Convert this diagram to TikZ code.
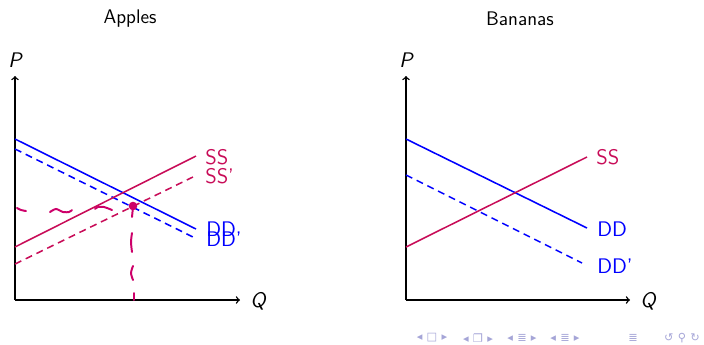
\documentclass[tikz,border=0pt]{standalone}
\usepackage{fontspec}
\usepackage{xcolor}
\newfontfamily\navfont{DejaVu Sans}
\definecolor{ssred}{RGB}{200,12,88}
\definecolor{inkred}{RGB}{205,0,105}
\definecolor{navgray}{RGB}{165,165,215}
\newcommand{\navgap}{\hspace{3pt}}

\tikzset{
  axis/.style={->,line width=1pt,black},
  demand/.style={line width=1.1pt,blue},
  supply/.style={line width=1.1pt,ssred},
  shifted/.style={dash pattern=on 5pt off 3.5pt},
  curvelab/.style={anchor=west,inner sep=0pt,font=\sffamily\fontsize{15}{17}\selectfont},
  axlab/.style={inner sep=0pt,font=\sffamily\itshape\fontsize{15}{17}\selectfont},
  ttl/.style={inner sep=0pt,font=\sffamily\fontsize{14}{16}\selectfont},
  ink/.style={inkred,line width=1.4pt,line cap=round},
  navsym/.style={inner sep=0pt,navgray,font=\navfont\fontsize{8}{9}\selectfont}
}

\begin{document}
\begin{tikzpicture}[x=0.025cm,y=-0.025cm]
    \useasboundingbox (0,0) rectangle (704,344);

    % Apples
    \node[ttl] (tA) at (130,19) {Apples};
    \coordinate (oA) at (15,300);
    \coordinate (pA) at (15,76);
    \coordinate (qA) at (240,300);
    \draw[axis] (oA) -- (pA);
    \draw[axis] (oA) -- (qA);
    \node[axlab] (PA) at (15,60) {P};
    \node[axlab,anchor=west] (QA) at (250,301) {Q};

    \coordinate (ddA1) at (15,139);   \coordinate (ddA2) at (196,229);
    \coordinate (dpA1) at (15,149);   \coordinate (dpA2) at (193,237);
    \coordinate (ssA1) at (15,247);   \coordinate (ssA2) at (196,156);
    \coordinate (spA1) at (15,264);   \coordinate (spA2) at (193,177);
    \draw[demand] (ddA1) -- (ddA2);
    \draw[demand,shifted] (dpA1) -- (dpA2);
    \draw[supply] (ssA1) -- (ssA2);
    \draw[supply,shifted] (spA1) -- (spA2);
    \node[curvelab,ssred] (lssA) at (205,157) {SS};
    \node[curvelab,ssred] (lspA) at (205,176) {SS'};
    \node[curvelab,blue] (lddA) at (206,229) {DD};
    \node[curvelab,blue] (ldpA) at (206,239) {DD'};

    % hand-drawn marks
    \draw[ink] plot[smooth] coordinates {(17,208) (21,210) (26,211)};
    \draw[ink] plot[smooth] coordinates {(50,212) (56,209) (63,212) (69,212) (72,210)};
    \draw[ink] plot[smooth] coordinates {(112,210) (104,207) (98,207) (95,209)};
    \fill[inkred] (133,206) circle (4.3);
    \draw[ink] (133,207) -- (132,217);
    \draw[ink] plot[smooth] coordinates {(132,233) (131,242) (132,252)};
    \draw[ink] plot[smooth] coordinates {(133,266) (131,273) (133,280)};
    \draw[ink] (134,293) -- (134,300);

    % Bananas
    \node[ttl] (tB) at (520,19) {Bananas};
    \coordinate (oB) at (406,300);
    \coordinate (pB) at (406,76);
    \coordinate (qB) at (630,300);
    \draw[axis] (oB) -- (pB);
    \draw[axis] (oB) -- (qB);
    \node[axlab] (PB) at (406,60) {P};
    \node[axlab,anchor=west] (QB) at (640,301) {Q};

    \coordinate (ddB1) at (406,139);  \coordinate (ddB2) at (587,228);
    \coordinate (dpB1) at (406,175);  \coordinate (dpB2) at (582,263);
    \coordinate (ssB1) at (406,247);  \coordinate (ssB2) at (587,157);
    \draw[demand] (ddB1) -- (ddB2);
    \draw[demand,shifted] (dpB1) -- (dpB2);
    \draw[supply] (ssB1) -- (ssB2);
    \node[curvelab,ssred] (lssB) at (596,157) {SS};
    \node[curvelab,blue] (lddB) at (597,229) {DD};
    \node[curvelab,blue] (ldpB) at (597,266) {DD'};

    % navigation symbols
    \node[navsym] (nav1) at (432,338) {◂\navgap□\navgap▸};
    \node[navsym] (nav2) at (478,338) {◂\navgap❐\navgap▸};
    \node[navsym] (nav3) at (522,338) {◂\navgap≣\navgap▸};
    \node[navsym] (nav4) at (565,338) {◂\navgap≣\navgap▸};
    \node[navsym] (nav5) at (633,338) {≣};
    \node[navsym] (nav6) at (682,338) {↺\navgap⚲\navgap↻};
\end{tikzpicture}
\end{document}
